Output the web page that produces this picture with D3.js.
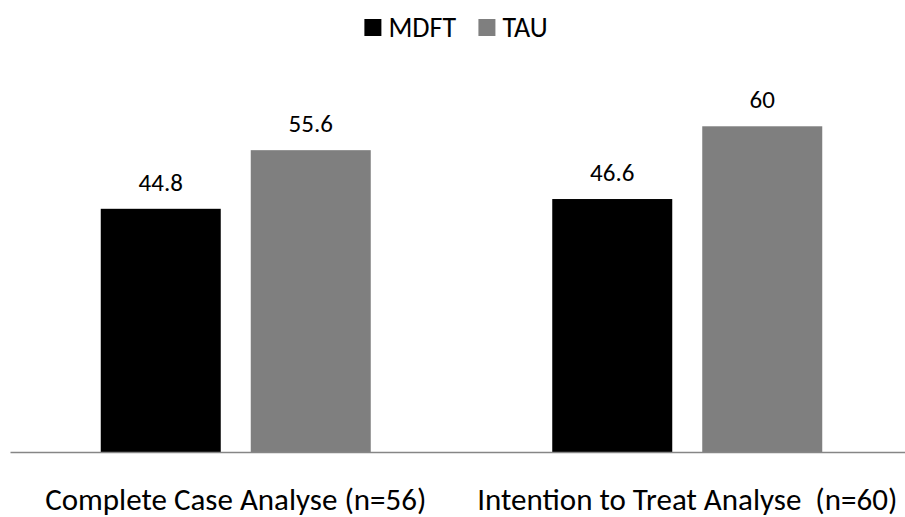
<!DOCTYPE html>
<html>
<head>
<meta charset="utf-8">
<script src="https://cdn.jsdelivr.net/npm/d3@7"></script>
<style>
  html, body { margin: 0; padding: 0; background: #fff; }
  svg text { font-family: Carlito, Calibri, Lato, "Open Sans", sans-serif; fill: #000; white-space: pre; }
</style>
</head>
<body>
<svg id="chart" width="905" height="517"></svg>
<script>
const categories = ["Complete Case Analyse (n=56)", "Intention to Treat Analyse  (n=60)"];
const seriesNames = ["MDFT", "TAU"];
const mdftValues = [44.8, 46.6];
const tauValues = [55.6, 60];
const seriesColors = ["#000000", "#7f7f7f"];

const svg = d3.select("#chart");
const baseY = 452;

const x0 = d3.scaleBand().domain(categories).range([10, 913]).padding(0);
const x1 = d3.scaleBand().domain(seriesNames).range([-135, 135]).paddingInner(0.2);
const y = d3.scaleLinear().domain([0, 70]).range([baseY, 72]);

const seriesValues = [mdftValues, tauValues];
const data = [];
categories.forEach((c, i) => {
  seriesNames.forEach((s, j) => {
    data.push({ cat: c, series: s, value: seriesValues[j][i], color: seriesColors[j] });
  });
});

const bars = svg.append("g");
bars.selectAll("rect").data(data).join("rect")
  .attr("x", d => x0(d.cat) + x0.bandwidth() / 2 + x1(d.series))
  .attr("y", d => y(d.value))
  .attr("width", x1.bandwidth())
  .attr("height", d => baseY - y(d.value))
  .attr("fill", d => d.color);

bars.selectAll("text").data(data).join("text")
  .attr("x", d => x0(d.cat) + x0.bandwidth() / 2 + x1(d.series) + x1.bandwidth() / 2)
  .attr("y", d => y(d.value) - 18)
  .attr("text-anchor", "middle")
  .style("font-size", "25px")
  .text(d => d.value);

// x axis
const xAxis = d3.axisBottom(x0).tickSize(0).tickPadding(38);
const gx = svg.append("g").attr("transform", `translate(0,${baseY})`).call(xAxis);
gx.select(".domain").attr("stroke", "#868686").attr("stroke-width", 1.5);
gx.selectAll(".tick text")
  .style("font-size", "31px")
  .style("font-family", "Carlito, Calibri, Lato, 'Open Sans', sans-serif")
  .style("white-space", "pre")
  .attr("fill", "#000")
  .attr("dy", "0")
  .attr("y", 58);

// legend
const legend = svg.append("g");
const items = legend.selectAll("g").data(seriesNames).join("g");
items.append("rect").attr("width", 17).attr("height", 17).attr("y", 19)
  .attr("fill", (d, i) => seriesColors[i]);
items.append("text").attr("x", 24).attr("y", 37)
  .style("font-size", "28px").text(d => d);
let offs = [];
let cur = 0;
items.each(function () {
  offs.push(cur);
  cur += this.getBBox().width + 22;
});
const total = cur - 22;
const startX = 456 - total / 2;
items.attr("transform", (d, i) => `translate(${startX + offs[i]},0)`);
</script>
</body>
</html>
